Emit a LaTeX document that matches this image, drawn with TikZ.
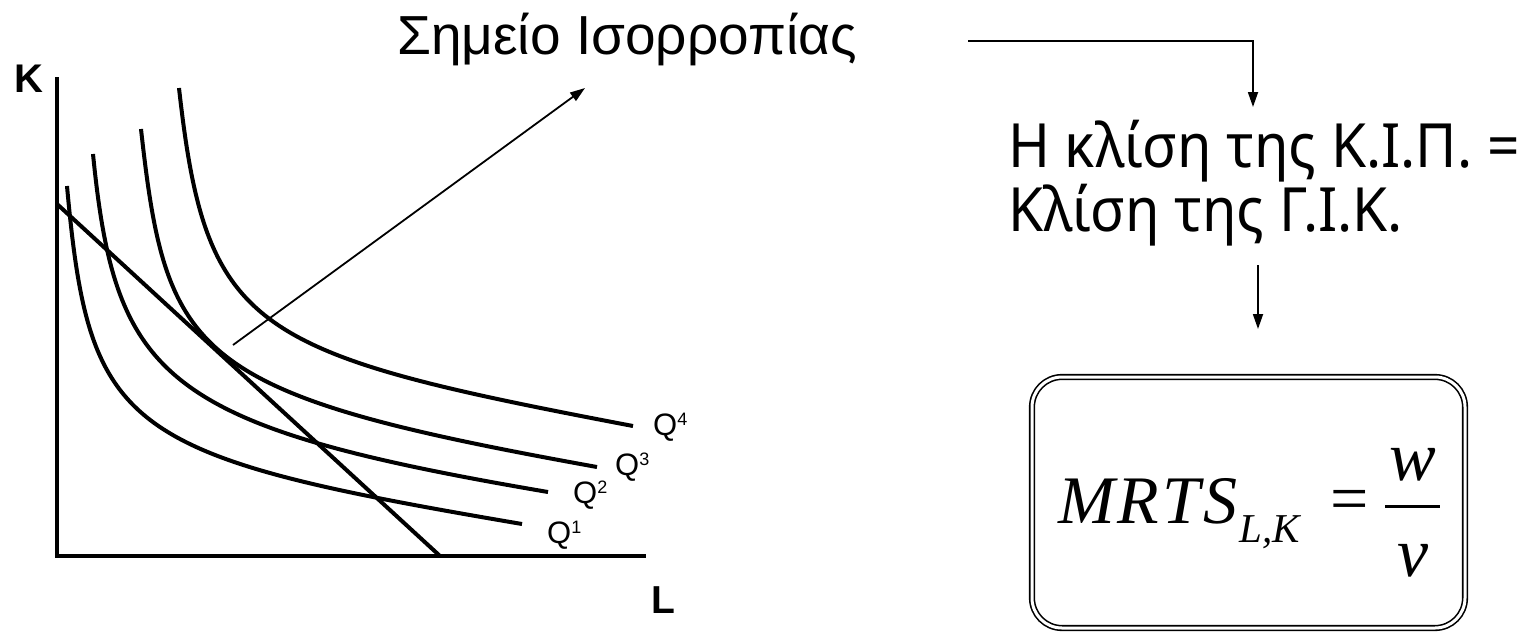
\documentclass[tikz,border=0pt]{standalone}
\usepackage{fontspec}
\setmainfont{Liberation Sans}
\newfontfamily\sidefont[FakeStretch=0.93]{Noto Sans}
\newfontfamily\formulafont{Liberation Serif}
\usetikzlibrary{arrows.meta}

\newcommand{\qlabel}[1]{Q\raisebox{10pt}{\fontsize{18}{18}\selectfont #1}}

\begin{document}
\begin{tikzpicture}[x=1pt,y=-1pt,
  axisline/.style={line width=4pt},
  isoquant/.style={line width=4pt},
  budget/.style={line width=4pt},
  pointer/.style={line width=1.8pt, -{Triangle[length=15pt,width=10pt]}},
  txt/.style={inner sep=0pt, anchor=base west},
  frm/.style={inner sep=0pt, anchor=base west, font=\formulafont\itshape},
]
\useasboundingbox (0,0) rectangle (1523,633);

% axes
\coordinate (ytop) at (57,77);
\coordinate (origin) at (57,556);
\coordinate (xend) at (646,556);
\draw[axisline] (ytop) -- (origin) -- (xend);
\node[txt, font=\fontsize{40}{40}\selectfont\bfseries] (klab) at (14,92) {K};
\node[txt, font=\fontsize{39}{39}\selectfont\bfseries] (llab) at (651,613) {L};

% isocost line
\coordinate (b0) at (57,204);
\coordinate (b1) at (440,556);
\draw[budget] (b0) -- (b1);

% isoquants Q1 to Q4, each a single cubic arc
\draw[isoquant] (67,186) .. controls (89.4,432.3) and (121.3,455.9) .. (522,524);
\draw[isoquant] (93,154) .. controls (115.5,379.3) and (162.4,426.3) .. (548,492);
\draw[isoquant] (141,129) .. controls (166.5,358.7) and (191.4,393.9) .. (597,467);
\draw[isoquant] (179,88) .. controls (206.2,332.2) and (250.1,353.1) .. (633,426);

% isoquant labels
\node[txt, font=\fontsize{31}{31}\selectfont] (q4) at (653,435) {\qlabel{4}};
\node[txt, font=\fontsize{31}{31}\selectfont] (q3) at (615,475) {\qlabel{3}};
\node[txt, font=\fontsize{31}{31}\selectfont] (q2) at (573,503) {\qlabel{2}};
\node[txt, font=\fontsize{31}{31}\selectfont] (q1) at (547,543) {\qlabel{1}};

% equilibrium caption and its pointer
\node[txt, font=\fontsize{55}{55}\selectfont] (title) at (397,54) {Σημείο Ισορροπίας};
\coordinate (eq) at (233,345);
\coordinate (eqtip) at (585,88);
\draw[pointer] (eq) -- (eqtip);

% condition text
\node[txt, font=\sidefont\fontsize{61}{61}\selectfont] (line1) at (1008,167) {Η κλίση της Κ.Ι.Π. =};
\node[txt, font=\sidefont\fontsize{61}{61}\selectfont] (line2) at (1008,231) {Κλίση της Γ.Ι.Κ.};

\coordinate (c1) at (968,41);
\coordinate (c2) at (1253,107);
\draw[pointer] (c1) -| (c2);
\coordinate (c3) at (1258,265);
\coordinate (c4) at (1258,329);
\draw[pointer] (c3) -- (c4);

% formula box
\node[draw, double=white, double distance=3pt, line width=1.6pt, rounded corners=30pt,
      minimum width=433pt, minimum height=251pt, inner sep=0pt] (box) at (1248.5,502.5) {};
\node[frm, font=\formulafont\itshape\fontsize{68}{68}\selectfont\addfontfeature{LetterSpace=4.5}] (mrts) at (1058,523) {MRTS};
\node[frm, font=\formulafont\itshape\fontsize{41}{41}\selectfont] (sub) at (1239,542) {L,K};
\node[inner sep=0pt, font=\formulafont\fontsize{68}{68}\selectfont] (eqs) at (1350,505.5) {=};
\node[inner sep=0pt, anchor=base, font=\formulafont\itshape\fontsize{70}{70}\selectfont] (num) at (1413,480) {w};
\node[inner sep=0pt, anchor=base, font=\formulafont\itshape\fontsize{70}{70}\selectfont] (den) at (1413,576) {v};
\draw[line width=3pt] (1385,506) -- (1440,506);
\end{tikzpicture}
\end{document}
